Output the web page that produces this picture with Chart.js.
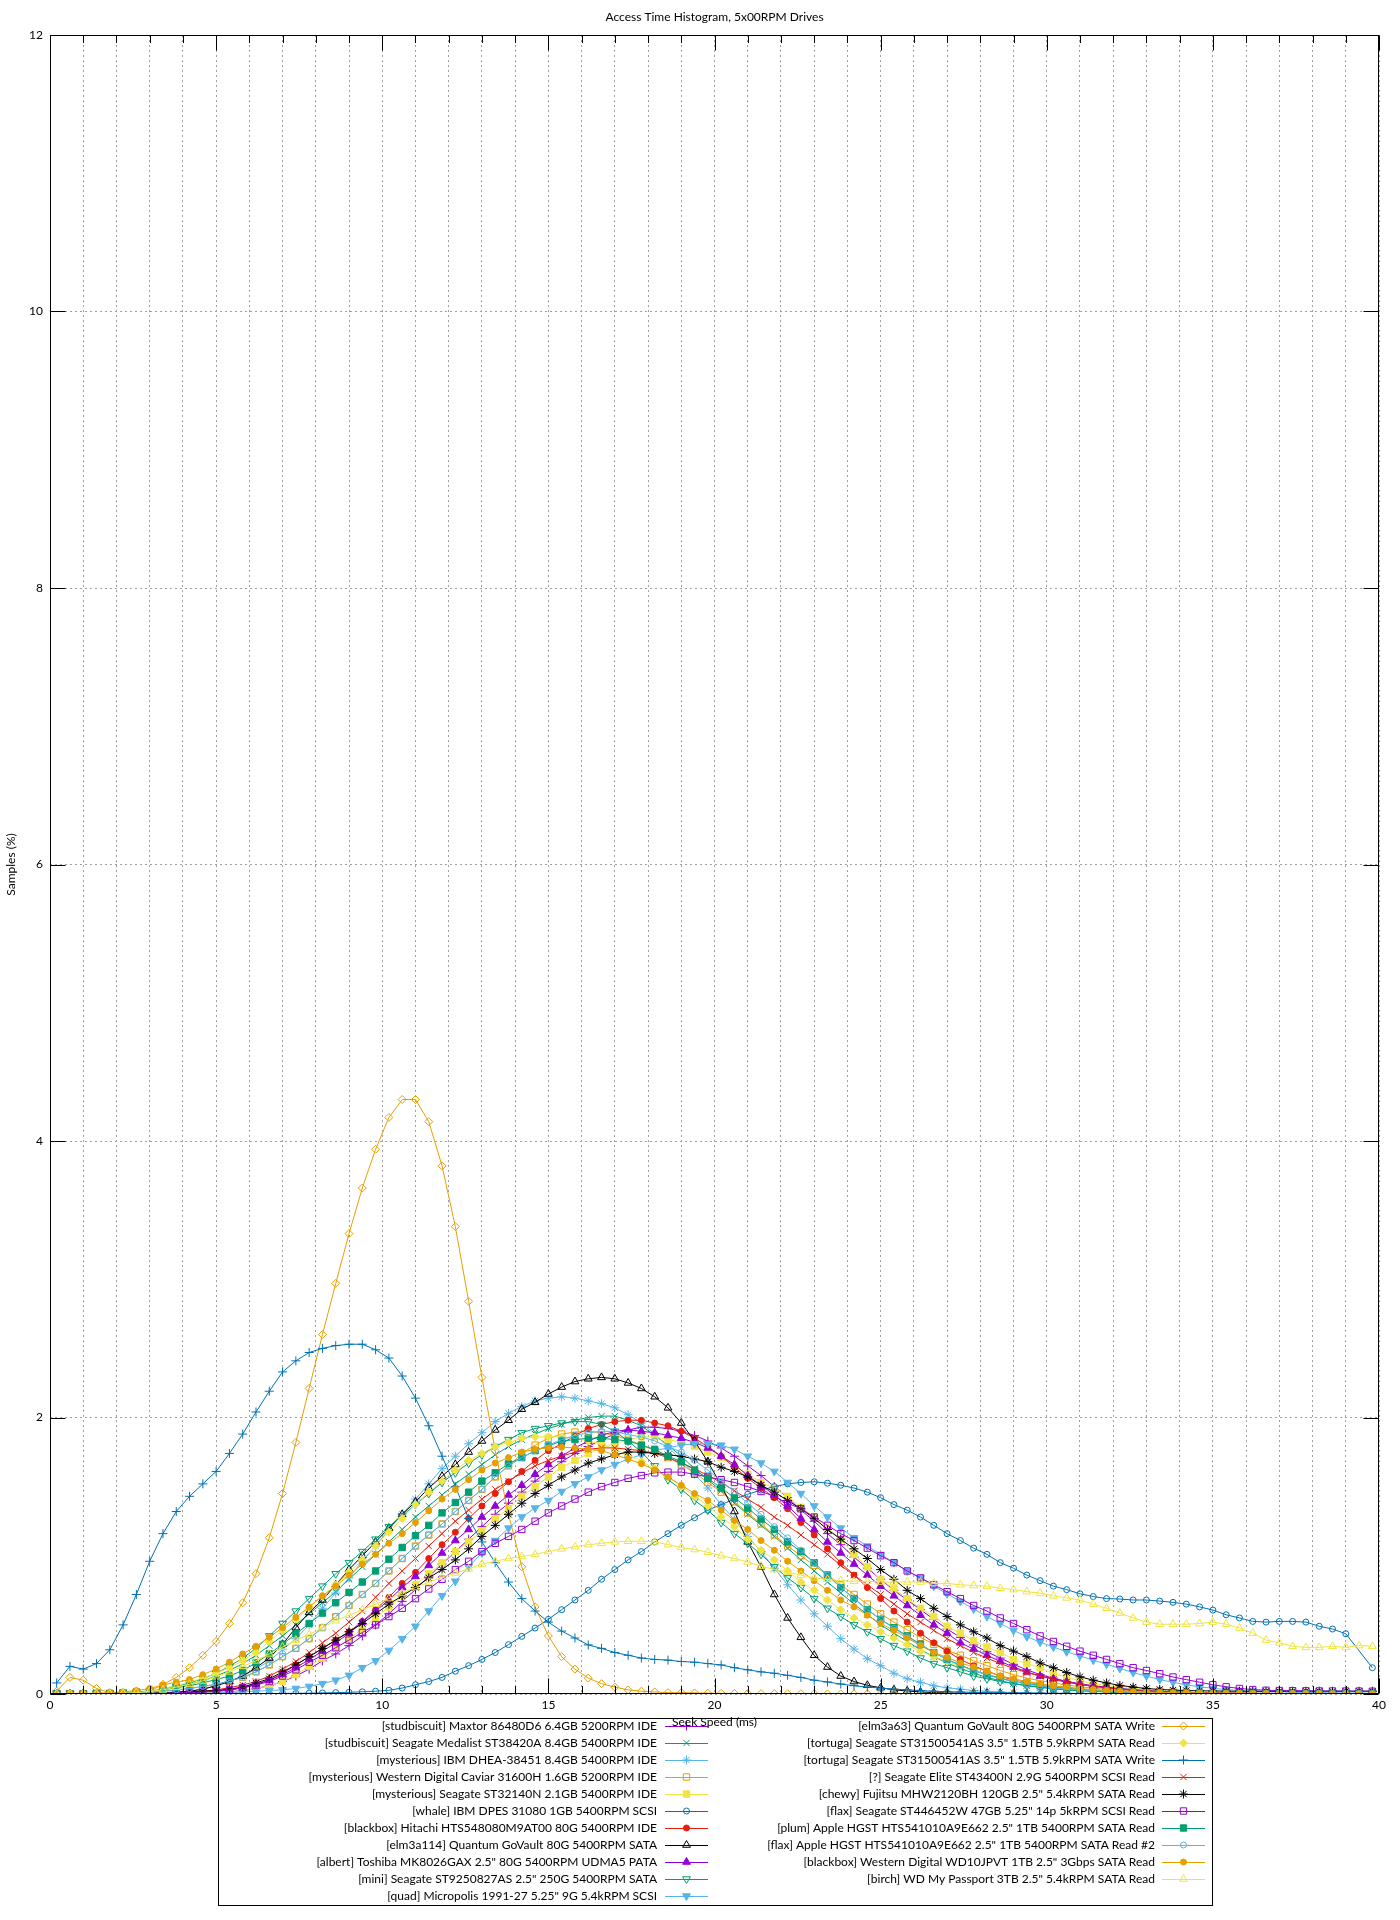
<!DOCTYPE html>
<html>
<head>
<meta charset="utf-8">
<script src="https://cdn.jsdelivr.net/npm/chart.js@4/dist/chart.umd.min.js"></script>
<style>
  html, body { margin: 0; padding: 0; background: #fff; }
</style>
</head>
<body>
<canvas id="myChart" width="1400" height="1920"></canvas>
<script>
// seek time bins (ms), one point every 0.4 ms
const seekMs = [0.2,0.6,1.0,1.4,1.8,2.2,2.6,3.0,3.4,3.8,4.2,4.6,5.0,5.4,5.8,6.2,6.6,7.0,7.4,7.8,
  8.2,8.6,9.0,9.4,9.8,10.2,10.6,11.0,11.4,11.8,12.2,12.6,13.0,13.4,13.8,14.2,14.6,15.0,15.4,15.8,
  16.2,16.6,17.0,17.4,17.8,18.2,18.6,19.0,19.4,19.8,20.2,20.6,21.0,21.4,21.8,22.2,22.6,23.0,23.4,23.8,
  24.2,24.6,25.0,25.4,25.8,26.2,26.6,27.0,27.4,27.8,28.2,28.6,29.0,29.4,29.8,30.2,30.6,31.0,31.4,31.8,
  32.2,32.6,33.0,33.4,33.8,34.2,34.6,35.0,35.4,35.8,36.2,36.6,37.0,37.4,37.8,38.2,38.6,39.0,39.4,39.8];

const xTickLabels = ['0', '5', '10', '15', '20', '25', '30', '35', '40'];
const yTickLabels = ['0', '2', '4', '6', '8', '10', '12'];

// samples (%) per bin
const maxtorIde = [0,0,0,0,0,0,0,0,0,0.005,
  0.005,0.008,0.01,0.015,0.025,0.04,0.06,0.09,0.13,0.18,
  0.24,0.29,0.35,0.42,0.50,0.58,0.67,0.755,0.85,0.94,
  1.03,1.12,1.21,1.30,1.38,1.46,1.54,1.61,1.68,1.74,
  1.79,1.84,1.88,1.91,1.93,1.93,1.92,1.90,1.87,1.83,
  1.78,1.72,1.65,1.58,1.50,1.42,1.33,1.25,1.16,1.08,
  0.99,0.91,0.83,0.75,0.68,0.61,0.54,0.47,0.41,0.355,
  0.305,0.26,0.215,0.175,0.14,0.115,0.09,0.07,0.055,0.045,
  0.035,0.028,0.022,0.018,0.014,0.011,0.009,0.007,0.006,0.005,
  0.004,0.004,0.003,0.003,0.003,0.002,0.002,0.002,0.002,0.002];
const medalistIde = [0,0,0,0,0,0.006,0.012,0.02,0.035,0.05,
  0.07,0.095,0.13,0.17,0.22,0.28,0.35,0.42,0.50,0.58,
  0.66,0.74,0.83,0.92,1.01,1.10,1.19,1.28,1.36,1.44,
  1.52,1.59,1.66,1.73,1.79,1.84,1.88,1.92,1.95,1.98,
  2.00,2.01,2.01,1.98,1.94,1.87,1.80,1.72,1.63,1.55,
  1.47,1.38,1.30,1.22,1.14,1.055,0.97,0.89,0.81,0.73,
  0.65,0.575,0.50,0.44,0.38,0.32,0.27,0.225,0.185,0.15,
  0.12,0.095,0.076,0.06,0.048,0.038,0.03,0.024,0.019,0.015,
  0.012,0.01,0.008,0.007,0.006,0.005,0.004,0.004,0.003,0.003,
  0.003,0.002,0.002,0.002,0.002,0.002,0.002,0.001,0.001,0.001];
const ibmDhea = [0,0,0,0,0,0,0.005,0.008,0.01,0.015,
  0.02,0.035,0.06,0.09,0.13,0.18,0.24,0.32,0.40,0.50,
  0.62,0.73,0.84,0.96,1.07,1.19,1.30,1.41,1.52,1.63,
  1.72,1.81,1.89,1.97,2.03,2.08,2.12,2.14,2.15,2.14,
  2.12,2.10,2.07,2.02,1.96,1.88,1.79,1.69,1.59,1.49,
  1.37,1.26,1.14,1.03,0.91,0.79,0.68,0.58,0.49,0.40,
  0.325,0.255,0.205,0.15,0.11,0.085,0.06,0.045,0.035,0.025,
  0.02,0.015,0.01,0.008,0.006,0.005,0.004,0.003,0.003,0.002,
  0.002,0.002,0.002,0.002,0.001,0.001,0.001,0.001,0.001,0.001,
  0.001,0.001,0.001,0.001,0.001,0.001,0.001,0.001,0.001,0.001];
const wdCaviar = [0,0,0,0,0,0.005,0.01,0.015,0.02,0.03,
  0.04,0.055,0.07,0.095,0.12,0.16,0.21,0.27,0.33,0.40,
  0.48,0.56,0.64,0.72,0.80,0.89,0.98,1.07,1.15,1.23,
  1.32,1.40,1.48,1.57,1.65,1.74,1.80,1.85,1.88,1.895,
  1.90,1.89,1.87,1.84,1.80,1.76,1.71,1.66,1.60,1.53,
  1.46,1.39,1.31,1.23,1.15,1.07,1.00,0.93,0.86,0.79,
  0.72,0.65,0.58,0.52,0.465,0.41,0.36,0.315,0.28,0.24,
  0.205,0.17,0.14,0.115,0.096,0.08,0.065,0.052,0.042,0.034,
  0.027,0.021,0.017,0.013,0.01,0.008,0.007,0.006,0.005,0.004,
  0.004,0.003,0.003,0.003,0.002,0.002,0.002,0.002,0.002,0.002];
const st32140n = [0,0,0,0,0,0,0,0.002,0.004,0.006,
  0.008,0.01,0.012,0.015,0.025,0.04,0.06,0.09,0.14,0.20,
  0.26,0.33,0.40,0.47,0.55,0.63,0.71,0.79,0.87,0.95,
  1.03,1.10,1.18,1.27,1.34,1.43,1.50,1.57,1.64,1.69,
  1.74,1.78,1.81,1.84,1.86,1.86,1.84,1.82,1.79,1.75,
  1.71,1.65,1.59,1.53,1.49,1.43,1.35,1.28,1.20,1.12,
  1.01,0.92,0.83,0.76,0.69,0.62,0.56,0.49,0.44,0.385,
  0.34,0.30,0.25,0.22,0.19,0.15,0.12,0.096,0.075,0.06,
  0.048,0.038,0.03,0.024,0.018,0.014,0.011,0.009,0.007,0.006,
  0.005,0.004,0.004,0.003,0.003,0.003,0.002,0.002,0.002,0.002];
const whaleScsi = [0,0,0,0,0,0,0,0,0,0,
  0,0,0,0,0,0.002,0.003,0.004,0.005,0.006,
  0.008,0.01,0.012,0.016,0.02,0.027,0.043,0.067,0.09,0.12,
  0.165,0.205,0.25,0.30,0.357,0.417,0.477,0.54,0.61,0.68,
  0.75,0.83,0.90,0.97,1.03,1.10,1.16,1.22,1.275,1.33,
  1.37,1.41,1.445,1.475,1.50,1.52,1.53,1.535,1.525,1.51,
  1.49,1.46,1.42,1.37,1.33,1.28,1.22,1.16,1.11,1.055,
  1.01,0.95,0.91,0.86,0.82,0.78,0.755,0.725,0.705,0.69,
  0.687,0.68,0.68,0.672,0.663,0.65,0.63,0.607,0.573,0.55,
  0.525,0.52,0.525,0.525,0.52,0.49,0.47,0.436,null,0.19];
const hitachiIde = [0,0,0,0,0,0,0,0.002,0.004,0.006,
  0.01,0.015,0.02,0.03,0.045,0.07,0.10,0.15,0.21,0.27,
  0.33,0.39,0.45,0.525,0.61,0.70,0.80,0.88,0.98,1.08,
  1.17,1.27,1.36,1.45,1.535,1.61,1.69,1.76,1.81,1.87,
  1.92,1.95,1.97,1.98,1.98,1.96,1.94,1.90,1.85,1.79,
  1.72,1.64,1.56,1.49,1.42,1.34,1.24,1.15,1.05,0.95,
  0.86,0.77,0.69,0.60,0.52,0.44,0.37,0.31,0.25,0.205,
  0.165,0.13,0.10,0.085,0.067,0.055,0.045,0.035,0.028,0.022,
  0.018,0.014,0.01,0.008,0.007,0.006,0.005,0.004,0.004,0.003,
  0.003,0.003,0.002,0.002,0.002,0.002,0.002,0.002,0.002,0.002];
const govault114 = [0,0,0,0,0,0,0.002,0.004,0.007,0.012,
  0.02,0.035,0.06,0.09,0.13,0.19,0.26,0.36,0.48,0.59,
  0.68,0.79,0.90,1.00,1.10,1.20,1.30,1.39,1.49,1.575,
  1.66,1.75,1.83,1.91,1.98,2.06,2.11,2.17,2.22,2.26,
  2.28,2.29,2.28,2.25,2.21,2.15,2.07,1.96,1.83,1.68,
  1.51,1.32,1.10,0.92,0.72,0.55,0.41,0.28,0.195,0.13,
  0.09,0.063,0.045,0.03,0.022,0.015,0.01,0.008,0.006,0.005,
  0.004,0.004,0.003,0.003,0.002,0.002,0.002,0.002,0.001,0.001,
  0.001,0.001,0.001,0.001,0.001,0.001,0.001,0.001,0.001,0.001,
  0,0,0,0,0,0,0,0,0,0];
const toshibaPata = [0,0,0,0,0,0,0,0.002,0.004,0.006,
  0.01,0.015,0.02,0.03,0.045,0.07,0.10,0.14,0.19,0.25,
  0.31,0.37,0.44,0.52,0.60,0.68,0.77,0.85,0.93,1.02,
  1.11,1.19,1.28,1.36,1.44,1.51,1.59,1.66,1.72,1.78,
  1.83,1.87,1.90,1.91,1.90,1.89,1.87,1.85,1.82,1.78,
  1.72,1.66,1.58,1.51,1.44,1.36,1.27,1.19,1.10,1.02,
  0.94,0.86,0.78,0.71,0.64,0.57,0.50,0.44,0.37,0.325,
  0.28,0.236,0.195,0.16,0.13,0.11,0.09,0.075,0.06,0.05,
  0.04,0.032,0.025,0.02,0.015,0.012,0.01,0.008,0.007,0.006,
  0.005,0.004,0.004,0.003,0.003,0.003,0.002,0.002,0.002,0.002];
const st9250827 = [0,0,0,0,0,0.005,0.01,0.02,0.035,0.055,
  0.08,0.11,0.15,0.20,0.26,0.33,0.42,0.51,0.60,0.69,
  0.78,0.87,0.95,1.03,1.12,1.21,1.29,1.37,1.45,1.53,
  1.60,1.67,1.73,1.79,1.84,1.89,1.92,1.94,1.96,1.97,
  1.97,1.95,1.90,1.83,1.75,1.65,1.55,1.48,1.40,1.33,
  1.24,1.16,1.09,1.01,0.92,0.84,0.77,0.69,0.62,0.56,
  0.50,0.45,0.40,0.35,0.31,0.26,0.22,0.19,0.16,0.13,
  0.11,0.09,0.075,0.06,0.05,0.04,0.03,0.025,0.02,0.015,
  0.01,0.008,0.007,0.006,0.005,0.004,0.004,0.003,0.003,0.003,
  0.002,0.002,0.002,0.002,0.002,0.002,0.002,0.002,0.002,0.002];
const micropolis = [0,0,0,0,0,0,0,0,0,0,
  0.005,0.005,0.01,0.01,0.015,0.02,0.025,0.03,0.04,0.055,
  0.075,0.10,0.135,0.19,0.24,0.315,0.40,0.49,0.60,0.71,
  0.815,0.92,1.02,1.11,1.20,1.28,1.345,1.40,1.465,1.52,
  1.57,1.62,1.66,1.70,1.73,1.76,1.78,1.80,1.81,1.81,
  1.80,1.77,1.72,1.67,1.61,1.53,1.45,1.36,1.28,1.20,
  1.13,1.07,1.01,0.95,0.89,0.84,0.78,0.725,0.67,0.615,
  0.56,0.51,0.46,0.415,0.375,0.34,0.305,0.275,0.245,0.215,
  0.185,0.155,0.13,0.104,0.085,0.066,0.052,0.041,0.032,0.026,
  0.02,0.017,0.015,0.013,0.011,0.01,0.009,0.008,0.007,0.006];
const govault63Write = [0.02,0.12,0.10,0.04,0.01,0.005,0.005,0.02,0.07,0.12,
  0.19,0.28,0.38,0.51,0.66,0.87,1.13,1.45,1.82,2.21,
  2.60,2.97,3.33,3.66,3.94,4.17,4.30,4.30,4.14,3.82,
  3.38,2.84,2.29,1.76,1.30,0.92,0.63,0.42,0.27,0.18,
  0.115,0.075,0.05,0.03,0.02,0.015,0.01,0.01,0.008,0.006,
  0.005,0.004,0.004,0.003,0.003,0.002,0.002,0.002,0.001,0.001,
  0.001,0.001,0.001,0.001,0.001,0,0,0,0,0,
  0,0,0,0,0,0,0,0,0,0,
  0,0,0,0,0,0,0,0,0,0,
  0,0,0,0,0,0,0,0,0,0];
const tortugaRead = [0,0,0,0,0.005,0.01,0.015,0.025,0.04,0.06,
  0.085,0.115,0.15,0.19,0.24,0.30,0.38,0.46,0.54,0.625,
  0.71,0.79,0.88,0.97,1.07,1.17,1.27,1.37,1.46,1.54,
  1.62,1.69,1.74,1.79,1.82,1.85,1.86,1.86,1.86,1.85,
  1.83,1.81,1.77,1.73,1.68,1.63,1.57,1.50,1.43,1.36,
  1.28,1.21,1.12,1.04,0.97,0.89,0.81,0.75,0.68,0.61,
  0.55,0.50,0.45,0.405,0.357,0.31,0.27,0.236,0.20,0.17,
  0.145,0.115,0.096,0.08,0.065,0.053,0.043,0.035,0.028,0.022,
  0.018,0.014,0.011,0.009,0.007,0.006,0.005,0.004,0.004,0.003,
  0.003,0.003,0.002,0.002,0.002,0.002,0.002,0.002,0.002,0.002];
const tortugaWrite = [0.08,0.20,0.18,0.22,0.32,0.50,0.72,0.96,1.16,1.32,
  1.43,1.52,1.61,1.74,1.88,2.04,2.19,2.33,2.41,2.47,
  2.50,2.52,2.53,2.53,2.49,2.43,2.30,2.14,1.94,1.72,
  1.50,1.27,1.10,0.95,0.81,0.69,0.60,0.52,0.455,0.405,
  0.355,0.33,0.30,0.28,0.26,0.25,0.245,0.235,0.23,0.22,
  0.21,0.19,0.175,0.16,0.15,0.135,0.12,0.10,0.087,0.072,
  0.06,0.05,0.043,0.035,0.03,0.025,0.02,0.017,0.014,0.012,
  0.01,0.009,0.008,0.007,0.006,0.005,0.005,0.004,0.004,0.003,
  0.003,0.003,0.003,0.002,0.002,0.002,0.002,0.002,0.002,0.002,
  0.002,0.002,0.001,0.001,0.001,0.001,0.001,0.001,0.001,0.001];
const eliteScsi = [0,0,0,0,0,0,0.002,0.004,0.007,0.01,
  0.015,0.02,0.03,0.045,0.065,0.09,0.13,0.18,0.235,0.30,
  0.37,0.44,0.52,0.60,0.70,0.80,0.89,0.98,1.07,1.16,
  1.25,1.33,1.41,1.48,1.54,1.60,1.65,1.69,1.72,1.75,
  1.77,1.78,1.78,1.77,1.76,1.74,1.71,1.67,1.63,1.58,
  1.53,1.47,1.41,1.35,1.28,1.22,1.15,1.08,1.01,0.93,
  0.86,0.79,0.72,0.65,0.58,0.52,0.46,0.40,0.35,0.30,
  0.26,0.22,0.185,0.155,0.13,0.105,0.085,0.07,0.055,0.045,
  0.035,0.028,0.022,0.018,0.014,0.011,0.009,0.007,0.006,0.005,
  0.004,0.004,0.003,0.003,0.003,0.002,0.002,0.002,0.002,0.002];
const fujitsuRead = [0,0,0,0,0,0,0.002,0.004,0.007,0.012,
  0.015,0.02,0.025,0.035,0.05,0.08,0.11,0.16,0.21,0.27,
  0.33,0.39,0.45,0.51,0.58,0.65,0.71,0.77,0.84,0.90,
  0.97,1.05,1.14,1.22,1.30,1.38,1.45,1.51,1.57,1.62,
  1.67,1.70,1.73,1.75,1.75,1.74,1.73,1.72,1.70,1.68,
  1.64,1.61,1.57,1.51,1.46,1.40,1.34,1.27,1.19,1.12,
  1.05,0.98,0.90,0.83,0.75,0.69,0.62,0.56,0.50,0.45,
  0.405,0.35,0.31,0.27,0.225,0.19,0.155,0.125,0.10,0.08,
  0.062,0.05,0.04,0.033,0.028,0.025,0.023,0.022,0.021,0.02,
  0.02,0.02,0.02,0.02,0.02,0.02,0.02,0.02,0.02,0.02];
const st446452w = [0,0,0,0,0,0,0,0.005,0.005,0.01,
  0.01,0.015,0.02,0.03,0.045,0.065,0.09,0.13,0.175,0.23,
  0.28,0.335,0.39,0.445,0.50,0.56,0.62,0.69,0.76,0.83,
  0.90,0.96,1.03,1.09,1.14,1.19,1.25,1.31,1.36,1.41,
  1.46,1.50,1.53,1.56,1.58,1.60,1.605,1.605,1.59,1.57,
  1.55,1.53,1.50,1.465,1.43,1.38,1.34,1.28,1.22,1.16,
  1.11,1.055,1.00,0.95,0.89,0.84,0.79,0.74,0.69,0.64,
  0.60,0.55,0.51,0.465,0.42,0.38,0.345,0.31,0.28,0.25,
  0.22,0.19,0.17,0.147,0.123,0.104,0.085,0.067,0.052,0.04,
  0.032,0.027,0.025,0.024,0.023,0.022,0.022,0.021,0.021,0.02];
const plumRead = [0,0,0,0.005,0.005,0.01,0.015,0.02,0.03,0.045,
  0.06,0.08,0.105,0.13,0.17,0.225,0.29,0.36,0.435,0.51,
  0.585,0.66,0.735,0.81,0.89,0.975,1.06,1.145,1.22,1.31,
  1.385,1.46,1.54,1.60,1.665,1.71,1.76,1.795,1.83,1.84,
  1.85,1.85,1.84,1.83,1.80,1.77,1.72,1.68,1.62,1.56,
  1.49,1.42,1.345,1.265,1.19,1.10,1.03,0.95,0.86,0.77,
  0.69,0.61,0.54,0.48,0.42,0.36,0.30,0.25,0.21,0.17,
  0.14,0.115,0.09,0.075,0.06,0.05,0.04,0.032,0.025,0.02,
  0.015,0.012,0.01,0.008,0.007,0.006,0.005,0.004,0.004,0.003,
  0.003,0.003,0.002,0.002,0.002,0.002,0.002,0.002,0.002,0.002];
const flaxRead2 = [0,0,0,0,0,0.005,0.01,0.015,0.02,0.03,
  0.04,0.055,0.07,0.095,0.12,0.16,0.21,0.27,0.33,0.40,
  0.48,0.56,0.64,0.72,0.80,0.89,0.98,1.07,1.15,1.23,
  1.32,1.40,1.48,1.57,1.65,1.71,1.76,1.80,1.84,1.87,
  1.89,1.90,1.90,1.875,1.86,1.83,1.79,1.75,1.69,1.62,
  1.54,1.465,1.38,1.30,1.21,1.13,1.04,0.95,0.86,0.77,
  0.69,0.61,0.54,0.475,0.415,0.355,0.30,0.25,0.205,0.17,
  0.14,0.11,0.09,0.072,0.058,0.046,0.037,0.03,0.024,0.019,
  0.015,0.012,0.01,0.008,0.007,0.006,0.005,0.004,0.004,0.003,
  0.003,0.003,0.002,0.002,0.002,0.002,0.002,0.002,0.002,0.002];
const wd10jpvt = [0,0.005,0.005,0.005,0.01,0.015,0.025,0.04,0.065,0.085,
  0.105,0.14,0.18,0.23,0.29,0.345,0.41,0.48,0.555,0.63,
  0.71,0.78,0.86,0.94,1.01,1.09,1.16,1.24,1.325,1.41,
  1.48,1.55,1.62,1.67,1.71,1.75,1.77,1.78,1.785,1.78,
  1.77,1.76,1.73,1.70,1.665,1.62,1.57,1.51,1.45,1.40,
  1.33,1.255,1.19,1.11,1.04,0.96,0.89,0.82,0.75,0.68,
  0.63,0.57,0.51,0.46,0.405,0.35,0.30,0.265,0.225,0.195,
  0.165,0.13,0.11,0.09,0.075,0.06,0.05,0.04,0.032,0.026,
  0.02,0.016,0.013,0.011,0.009,0.008,0.007,0.006,0.005,0.005,
  0.004,0.004,0.003,0.003,0.003,0.003,0.002,0.002,0.002,0.002];
const birchRead = [0,0,0,0,0,0.005,0.01,0.02,0.03,0.05,
  0.07,0.095,0.125,0.16,0.20,0.24,0.29,0.34,0.39,0.43,
  0.48,0.53,0.57,0.61,0.65,0.69,0.73,0.77,0.81,0.845,
  0.875,0.905,0.94,0.96,0.98,0.995,1.01,1.03,1.05,1.065,
  1.08,1.09,1.10,1.105,1.105,1.10,1.08,1.06,1.045,1.025,
  1.00,0.98,0.955,0.925,0.90,0.88,0.86,0.84,0.83,0.82,
  0.815,0.815,0.81,0.81,0.81,0.81,0.80,0.80,0.79,0.785,
  0.78,0.765,0.755,0.74,0.73,0.71,0.695,0.68,0.65,0.62,
  0.585,0.55,0.52,0.505,0.505,0.505,0.51,0.52,0.505,0.477,
  0.44,0.39,0.37,0.345,0.337,0.337,0.345,0.337,0.35,0.345];

const seriesNames = [
  '[studbiscuit] Maxtor 86480D6 6.4GB 5200RPM IDE',
  '[studbiscuit] Seagate Medalist ST38420A 8.4GB 5400RPM IDE',
  '[mysterious] IBM DHEA-38451 8.4GB 5400RPM IDE',
  '[mysterious] Western Digital Caviar 31600H 1.6GB 5200RPM IDE',
  '[mysterious] Seagate ST32140N 2.1GB 5400RPM IDE',
  '[whale] IBM DPES 31080 1GB 5400RPM SCSI',
  '[blackbox] Hitachi HTS548080M9AT00 80G 5400RPM IDE',
  '[elm3a114] Quantum GoVault 80G 5400RPM SATA',
  '[albert] Toshiba MK8026GAX 2.5" 80G 5400RPM UDMA5 PATA',
  '[mini] Seagate ST9250827AS 2.5" 250G 5400RPM SATA',
  '[quad] Micropolis 1991-27 5.25" 9G 5.4kRPM SCSI',
  '[elm3a63] Quantum GoVault 80G 5400RPM SATA Write',
  '[tortuga] Seagate ST31500541AS 3.5" 1.5TB 5.9kRPM SATA Read',
  '[tortuga] Seagate ST31500541AS 3.5" 1.5TB 5.9kRPM SATA Write',
  '[?] Seagate Elite ST43400N 2.9G 5400RPM SCSI Read',
  '[chewy] Fujitsu MHW2120BH 120GB 2.5" 5.4kRPM SATA Read',
  '[flax] Seagate ST446452W 47GB 5.25" 14p 5kRPM SCSI Read',
  '[plum] Apple HGST HTS541010A9E662 2.5" 1TB 5400RPM SATA Read',
  '[flax] Apple HGST HTS541010A9E662 2.5" 1TB 5400RPM SATA Read #2',
  '[blackbox] Western Digital WD10JPVT 1TB 2.5" 3Gbps SATA Read',
  '[birch] WD My Passport 3TB 2.5" 5.4kRPM SATA Read'
];
const seriesValues = [maxtorIde, medalistIde, ibmDhea, wdCaviar, st32140n, whaleScsi, hitachiIde,
  govault114, toshibaPata, st9250827, micropolis, govault63Write, tortugaRead, tortugaWrite,
  eliteScsi, fujitsuRead, st446452w, plumRead, flaxRead2, wd10jpvt, birchRead];

// gnuplot default colour cycle and point types
const PURPLE = '#9400d3', GREEN = '#009e73', SKY = '#56b4e9', ORANGE = '#e69f00',
      YELLOW = '#f0e442', BLUE = '#0072b2', RED = '#e51e10', BLACK = '#000000';
const seriesStyle = [
  {c: PURPLE, p: 'cross', r: 4.5, fill: false},
  {c: GREEN, p: 'crossRot', r: 4.5, fill: false},
  {c: SKY, p: 'star', r: 4.5, fill: false},
  {c: ORANGE, p: 'rect', r: 4.5, fill: false},
  {c: YELLOW, p: 'rect', r: 4.5, fill: true},
  {c: BLUE, p: 'circle', r: 3, fill: false},
  {c: RED, p: 'circle', r: 3, fill: true},
  {c: BLACK, p: 'triangle', r: 4.5, fill: false},
  {c: PURPLE, p: 'triangle', r: 4.5, fill: true},
  {c: GREEN, p: 'triangle', r: 4.5, fill: false, rot: 180},
  {c: SKY, p: 'triangle', r: 4.5, fill: true, rot: 180},
  {c: ORANGE, p: 'rectRot', r: 4, fill: false},
  {c: YELLOW, p: 'rectRot', r: 4, fill: true},
  {c: BLUE, p: 'cross', r: 4.5, fill: false},
  {c: RED, p: 'crossRot', r: 4.5, fill: false},
  {c: BLACK, p: 'star', r: 4.5, fill: false},
  {c: PURPLE, p: 'rect', r: 4.5, fill: false},
  {c: GREEN, p: 'rect', r: 4.5, fill: true},
  {c: SKY, p: 'circle', r: 3, fill: false},
  {c: ORANGE, p: 'circle', r: 3, fill: true},
  {c: YELLOW, p: 'triangle', r: 4.5, fill: false}
];

const FONT = 'Lato, "Noto Sans", sans-serif';
const chartTitle = 'Access Time Histogram, 5x00RPM Drives';
const xTitle = 'Seek Speed (ms)';
const yTitle = 'Samples (%)';

const datasets = seriesNames.map((name, i) => {
  const s = seriesStyle[i];
  return {
    label: name,
    data: seriesValues[i].map((v, k) => ({x: seekMs[k], y: v})),
    borderColor: s.c,
    backgroundColor: s.c,
    pointBorderColor: s.c,
    pointBackgroundColor: s.fill ? s.c : 'rgba(0,0,0,0)',
    pointStyle: s.p,
    pointRotation: s.rot || 0,
    pointRadius: s.r,
    pointBorderWidth: 1,
    borderWidth: 1,
    tension: 0,
    spanGaps: true,
    order: seriesNames.length - i
  };
});

// frame, inward ticks, titles and the two-column key, drawn gnuplot style
const gnuplotDecor = {
  id: 'gnuplotDecor',
  afterDraw(chart) {
    const {ctx, chartArea: a, scales} = chart;
    const xs = scales.x, ys = scales.y;
    ctx.save();
    ctx.strokeStyle = '#000';
    ctx.lineWidth = 1;
    const L = Math.round(a.left) + 0.5, T = Math.round(a.top) + 0.5;
    const R = Math.round(a.right) - 0.5, B = Math.round(a.bottom) - 0.5;
    ctx.strokeRect(L, T, R - L, B - T);
    ctx.beginPath();
    xs.ticks.forEach(t => {
      const px = Math.round(xs.getPixelForValue(t.value)) + 0.5;
      const len = t.value % 5 === 0 ? 15 : 7.5;
      ctx.moveTo(px, B); ctx.lineTo(px, B - len);
      ctx.moveTo(px, T); ctx.lineTo(px, T + len);
    });
    ys.ticks.forEach(t => {
      const py = Math.round(ys.getPixelForValue(t.value)) + 0.5;
      ctx.moveTo(L, py); ctx.lineTo(L + 15, py);
      ctx.moveTo(R, py); ctx.lineTo(R - 15, py);
    });
    ctx.stroke();

    // key box
    ctx.strokeRect(218.5, 1718.5, 994, 187);
    ctx.font = '12px ' + FONT;
    ctx.textBaseline = 'middle';
    const cols = [{tx: 657, l0: 665, l1: 708}, {tx: 1155, l0: 1162, l1: 1205}];
    chart.data.datasets.forEach((ds, i) => {
      const c = cols[i < 11 ? 0 : 1];
      const row = i < 11 ? i : i - 11;
      const yy = 1726 + row * 17;
      ctx.fillStyle = '#000';
      ctx.textAlign = 'right';
      ctx.fillText(ds.label, c.tx, yy);
      ctx.strokeStyle = ds.borderColor;
      ctx.lineWidth = 1;
      ctx.beginPath();
      ctx.moveTo(c.l0, yy + 0.5); ctx.lineTo(c.l1, yy + 0.5);
      ctx.stroke();
      ctx.fillStyle = ds.pointBackgroundColor;
      if (Chart.helpers && Chart.helpers.drawPoint) {
        Chart.helpers.drawPoint(ctx, {pointStyle: ds.pointStyle, rotation: ds.pointRotation,
          radius: ds.pointRadius, borderWidth: 1}, (c.l0 + c.l1) / 2, yy);
      }
    });

    // titles
    ctx.fillStyle = '#000';
    ctx.textAlign = 'center';
    ctx.textBaseline = 'middle';
    ctx.font = '12px ' + FONT;
    ctx.fillText(chartTitle, (a.left + a.right) / 2, 17);
    ctx.fillText(xTitle, (a.left + a.right) / 2, 1722);
    ctx.translate(11, (a.top + a.bottom) / 2);
    ctx.rotate(-Math.PI / 2);
    ctx.fillText(yTitle, 0, 0);
    ctx.restore();
  }
};

const ctx = document.getElementById('myChart').getContext('2d');
new Chart(ctx, {
  type: 'line',
  data: {datasets: datasets},
  options: {
    responsive: false,
    animation: false,
    devicePixelRatio: 1,
    layout: {padding: {left: 0, right: 21, top: 35, bottom: 200}},
    plugins: {legend: {display: false}, tooltip: {enabled: false}, title: {display: false}},
    scales: {
      x: {
        type: 'linear', min: 0, max: 40,
        afterFit: s => { s.height = 26; },
        ticks: {
          stepSize: 1, autoSkip: false, maxRotation: 0, padding: 4, color: '#000',
          font: {family: FONT, size: 12},
          callback: v => (v % 5 === 0 ? xTickLabels[v / 5] : '')
        },
        grid: {color: '#a0a0a0', lineWidth: 1, drawTicks: false},
        border: {display: false, dash: [2, 3]}
      },
      y: {
        min: 0, max: 12,
        afterFit: s => { s.width = 50; },
        ticks: {
          stepSize: 2, padding: 7, color: '#000',
          font: {family: FONT, size: 12},
          callback: v => yTickLabels[v / 2]
        },
        grid: {color: '#a0a0a0', lineWidth: 1, drawTicks: false},
        border: {display: false, dash: [2, 3]}
      }
    }
  },
  plugins: [gnuplotDecor]
});
</script>
</body>
</html>
